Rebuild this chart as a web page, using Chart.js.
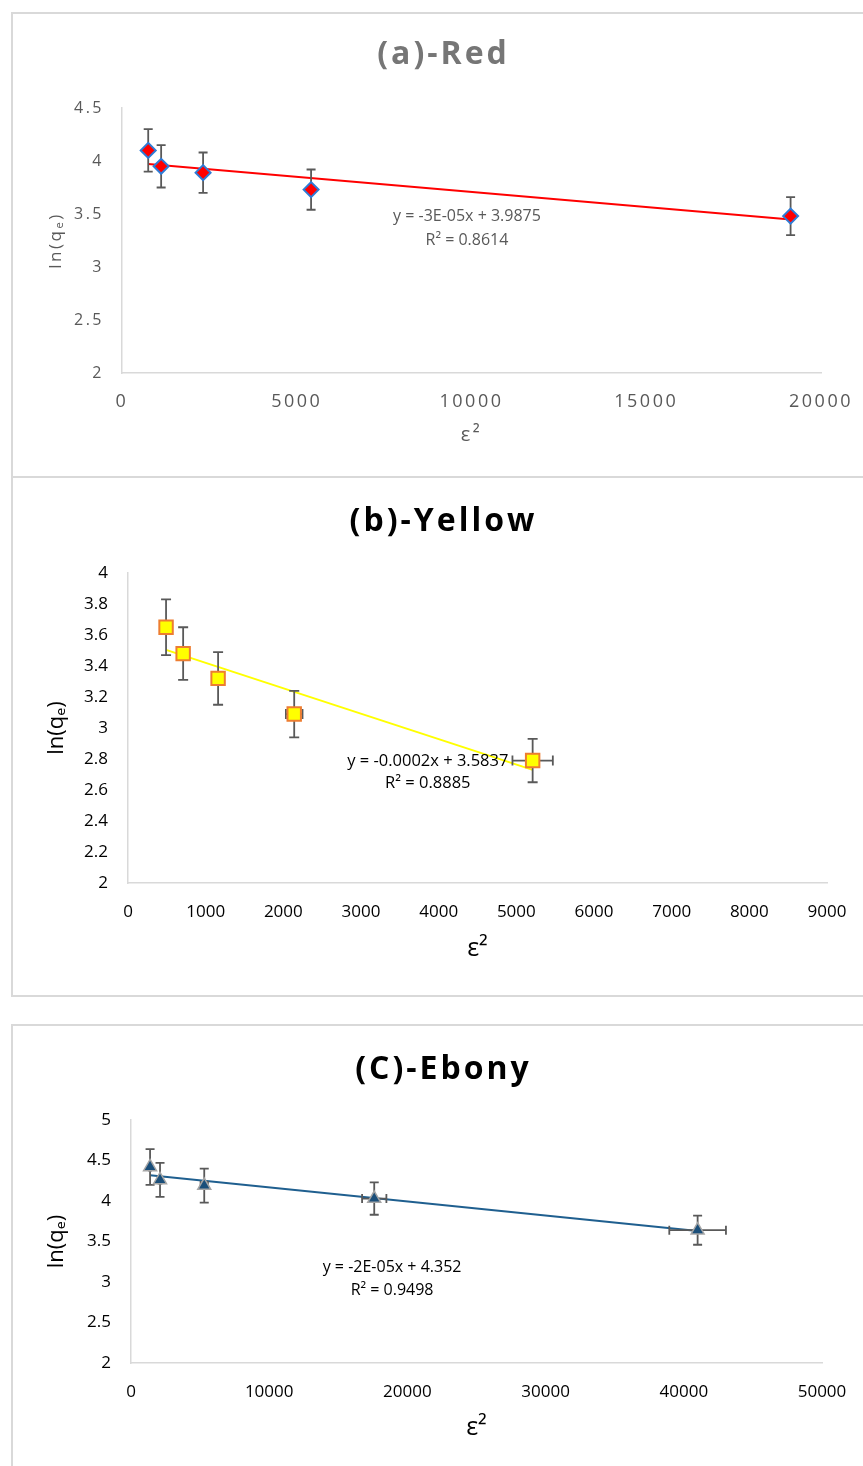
<!DOCTYPE html>
<html>
<head>
<meta charset="utf-8">
<title>Dubinin–Radushkevich plots</title>
<script src="https://cdn.jsdelivr.net/npm/chart.js@4.4.1/dist/chart.umd.min.js"></script>
<style>
  html, body { margin: 0; padding: 0; background: #ffffff; }
  body { width: 863px; height: 1466px; position: relative; overflow: hidden; }
  .frame { position: absolute; left: 11px; width: 900px; border: 2px solid #d9d9d9; box-sizing: border-box; }
  .holder { position: absolute; left: 12px; }
  canvas { display: block; }
</style>
</head>
<body>
<div class="frame" style="top:12px;height:466px"></div>
<div class="frame" style="top:476px;height:521px"></div>
<div class="frame" style="top:1024px;height:500px"></div>

<div class="holder" style="top:14px"><canvas id="chartRed" width="860" height="462"></canvas></div>
<div class="holder" style="top:478px"><canvas id="chartYellow" width="860" height="516"></canvas></div>
<div class="holder" style="top:1026px"><canvas id="chartEbony" width="860" height="440"></canvas></div>

<script>
// ---- (a) Red ----
const redX    = [750, 1120, 2320, 5410, 19130];
const redY    = [4.10, 3.95, 3.89, 3.73, 3.48];
const redYErr = [0.20, 0.20, 0.19, 0.19, 0.18];
const redXTicks = [0, 5000, 10000, 15000, 20000];
const redYTicks = [2, 2.5, 3, 3.5, 4, 4.5];
const redEquation = ['y = -3E-05x + 3.9875', 'R² = 0.8614'];

// ---- (b) Yellow ----
const yellowX    = [490, 710, 1160, 2140, 5210];
const yellowY    = [3.65, 3.48, 3.32, 3.09, 2.79];
const yellowYErr = [0.18, 0.17, 0.17, 0.15, 0.14];
const yellowXErr = [25, 35, 58, 107, 260];
const yellowXTicks = [0, 1000, 2000, 3000, 4000, 5000, 6000, 7000, 8000, 9000];
const yellowYTicks = [2, 2.2, 2.4, 2.6, 2.8, 3, 3.2, 3.4, 3.6, 3.8, 4];
const yellowEquation = ['y = -0.0002x + 3.5837', 'R² = 0.8885'];

// ---- (C) Ebony ----
const ebonyX    = [1380, 2100, 5300, 17600, 41000];
const ebonyY    = [4.42, 4.26, 4.19, 4.03, 3.64];
const ebonyYErr = [0.22, 0.21, 0.21, 0.20, 0.18];
const ebonyXErr = [70, 105, 265, 880, 2050];
const ebonyXTicks = [0, 10000, 20000, 30000, 40000, 50000];
const ebonyYTicks = [2, 2.5, 3, 3.5, 4, 4.5, 5];
const ebonyEquation = ['y = -2E-05x + 4.352', 'R² = 0.9498'];

const FONT = '"Open Sans", "Noto Sans", "DejaVu Sans", sans-serif';
const Y_TITLE = 'ln(qₑ)';
const X_TITLE = 'ε²';

// Ordinary least-squares line through the measured points
function leastSquares(xs, ys) {
  const n = xs.length;
  const mx = xs.reduce((a, b) => a + b, 0) / n;
  const my = ys.reduce((a, b) => a + b, 0) / n;
  let sxy = 0, sxx = 0;
  for (let i = 0; i < n; i++) {
    sxy += (xs[i] - mx) * (ys[i] - my);
    sxx += (xs[i] - mx) * (xs[i] - mx);
  }
  const slope = sxy / sxx;
  return { slope, intercept: my - slope * mx };
}
function trendPoints(xs, ys) {
  const f = leastSquares(xs, ys);
  const lo = Math.min(...xs), hi = Math.max(...xs);
  return [{ x: lo, y: f.intercept + f.slope * lo }, { x: hi, y: f.intercept + f.slope * hi }];
}

// Spacing applied to every text drawn on a chart (letterSpacing is part of the canvas state)
const textSpacing = {
  id: 'textSpacing',
  beforeDraw(chart, args, opts) { chart.ctx.letterSpacing = (opts.px || 0) + 'px'; },
  afterDraw(chart) { chart.ctx.letterSpacing = '0px'; }
};

// Chart heading, centred on the canvas
const panelTitle = {
  id: 'panelTitle',
  afterDraw(chart, args, opts) {
    const ctx = chart.ctx;
    ctx.save();
    ctx.letterSpacing = opts.spacing + 'px';
    ctx.font = `bold ${opts.size}px ${FONT}`;
    ctx.fillStyle = opts.color;
    ctx.textAlign = 'center';
    ctx.textBaseline = 'middle';
    ctx.fillText(opts.text, chart.width / 2 + opts.spacing / 2, opts.y);
    ctx.restore();
  }
};

// Vertical / horizontal error bars with end caps, drawn just before the markers
const errorBars = {
  id: 'errorBars',
  beforeDatasetDraw(chart, args, opts) {
    if (args.index !== 0) return;
    const { ctx, scales: { x, y } } = chart;
    const pts = chart.data.datasets[0].data;
    const xe = opts.xErr || [], ye = opts.yErr || [];
    const cap = opts.cap;
    ctx.save();
    ctx.strokeStyle = opts.color;
    ctx.lineWidth = opts.width;
    ctx.lineCap = 'butt';
    ctx.beginPath();
    pts.forEach((p, i) => {
      const px = x.getPixelForValue(p.x), py = y.getPixelForValue(p.y);
      if (ye[i]) {
        const t = y.getPixelForValue(p.y + ye[i]), b = y.getPixelForValue(p.y - ye[i]);
        ctx.moveTo(px, t); ctx.lineTo(px, b);
        ctx.moveTo(px - cap, t); ctx.lineTo(px + cap, t);
        ctx.moveTo(px - cap, b); ctx.lineTo(px + cap, b);
      }
      if (xe[i]) {
        const l = x.getPixelForValue(p.x - xe[i]), r = x.getPixelForValue(p.x + xe[i]);
        ctx.moveTo(l, py); ctx.lineTo(r, py);
        ctx.moveTo(l, py - cap); ctx.lineTo(l, py + cap);
        ctx.moveTo(r, py - cap); ctx.lineTo(r, py + cap);
      }
    });
    ctx.stroke();
    ctx.restore();
  }
};

// Trendline equation and R², anchored in data units
const trendLabel = {
  id: 'trendLabel',
  afterDraw(chart, args, opts) {
    const { ctx, scales: { x, y } } = chart;
    const cx = x.getPixelForValue(opts.x), cy = y.getPixelForValue(opts.y);
    ctx.save();
    ctx.letterSpacing = '0px';
    ctx.font = `${opts.size}px ${FONT}`;
    ctx.fillStyle = opts.color;
    ctx.textAlign = 'center';
    ctx.textBaseline = 'middle';
    opts.lines.forEach((line, i) => ctx.fillText(line, cx, cy + i * opts.gap));
    ctx.restore();
  }
};

function buildChart(id, p) {
  const points = p.xs.map((x, i) => ({ x, y: p.ys[i] }));
  const lastY = p.yTicks[p.yTicks.length - 1];
  const lastX = p.xTicks[p.xTicks.length - 1];
  return new Chart(document.getElementById(id), {
    type: 'scatter',
    data: {
      datasets: [
        {
          data: points,
          showLine: false,
          pointStyle: p.marker.style,
          pointRadius: p.marker.radius,
          pointHoverRadius: p.marker.radius,
          pointBackgroundColor: p.marker.fill,
          pointBorderColor: p.marker.stroke,
          pointBorderWidth: p.marker.width,
          backgroundColor: p.marker.fill,
          borderColor: p.marker.stroke
        },
        {
          data: trendPoints(p.xs, p.ys),
          showLine: true,
          borderColor: p.trend.color,
          borderWidth: p.trend.width,
          pointRadius: 0,
          pointHoverRadius: 0,
          fill: false
        }
      ]
    },
    options: {
      responsive: false,
      animation: false,
      devicePixelRatio: 1,
      events: [],
      layout: { padding: { top: p.area.top, right: p.area.right, left: 0, bottom: 0 } },
      plugins: {
        legend: { display: false },
        tooltip: { enabled: false },
        textSpacing: { px: p.spacing },
        panelTitle: { text: p.title, size: p.titleSize, color: p.titleColor, spacing: p.titleSpacing, y: p.titleY },
        errorBars: { xErr: p.xErr, yErr: p.yErr, color: '#595959', width: 1.8, cap: p.cap },
        trendLabel: { lines: p.equation, x: p.eqAt[0], y: p.eqAt[1], size: p.eqSize, gap: p.eqGap, color: p.textColor }
      },
      scales: {
        x: {
          type: 'linear',
          position: 'bottom',
          min: p.xTicks[0],
          max: lastX,
          afterBuildTicks: s => { s.ticks = p.xTicks.map(v => ({ value: v })); },
          afterFit: s => { s.height = p.area.xBox; },
          grid: { display: false, drawTicks: false },
          border: { display: true, color: '#d9d9d9', width: 1.5 },
          ticks: {
            autoSkip: false, maxRotation: 0, padding: p.xTickPad,
            color: p.textColor, font: { family: FONT, size: p.xTickSize },
            callback: v => String(v)
          },
          title: {
            display: true, text: X_TITLE, color: p.textColor,
            font: { family: FONT, size: p.xTitleSize }, padding: { top: 0, bottom: p.xTitlePad }
          }
        },
        y: {
          type: 'linear',
          position: 'left',
          min: p.yTicks[0],
          max: lastY,
          afterBuildTicks: s => { s.ticks = p.yTicks.map(v => ({ value: v })); },
          afterFit: s => { s.width = p.area.left; },
          grid: { display: false, drawTicks: false },
          border: { display: true, color: '#d9d9d9', width: 1.5 },
          ticks: {
            autoSkip: false, padding: p.yTickPad,
            color: p.textColor, font: { family: FONT, size: p.yTickSize },
            callback: v => String(v)
          },
          title: {
            display: true, text: Y_TITLE, color: p.textColor,
            font: { family: FONT, size: p.yTitleSize }, padding: { top: p.yTitlePad, bottom: 0 }
          }
        }
      }
    },
    plugins: [textSpacing, panelTitle, errorBars, trendLabel]
  });
}

buildChart('chartRed', {
  xs: redX, ys: redY, yErr: redYErr, xErr: null,
  xTicks: redXTicks, yTicks: redYTicks,
  title: '(a)-Red', titleSize: 32, titleColor: '#767676', titleSpacing: 3, titleY: 41,
  spacing: 2.5, textColor: '#595959',
  area: { top: 94, right: 51, left: 110, xBox: 103 },
  xTickSize: 18, xTickPad: 18, yTickSize: 16, yTickPad: 18,
  xTitleSize: 20, xTitlePad: 29, yTitleSize: 17, yTitlePad: 34,
  marker: { style: 'rectRot', radius: 7.5, fill: '#ff0000', stroke: '#2e7bd6', width: 2 },
  trend: { color: '#ff0000', width: 2 },
  cap: 4.5,
  equation: redEquation, eqAt: [9870, 3.48], eqSize: 16, eqGap: 24
});

buildChart('chartYellow', {
  xs: yellowX, ys: yellowY, yErr: yellowYErr, xErr: yellowXErr,
  xTicks: yellowXTicks, yTicks: yellowYTicks,
  title: '(b)-Yellow', titleSize: 32, titleColor: '#000000', titleSpacing: 3, titleY: 44,
  spacing: 0, textColor: '#000000',
  area: { top: 95, right: 45, left: 116, xBox: 111 },
  xTickSize: 17, xTickPad: 19, yTickSize: 17, yTickPad: 20,
  xTitleSize: 25, xTitlePad: 30, yTitleSize: 22, yTitlePad: 32,
  marker: { style: 'rect', radius: 9.5, fill: '#ffff00', stroke: '#ed7d31', width: 2 },
  trend: { color: '#ffff00', width: 2 },
  cap: 5,
  equation: yellowEquation, eqAt: [3860, 2.787], eqSize: 16.5, eqGap: 22
});

buildChart('chartEbony', {
  xs: ebonyX, ys: ebonyY, yErr: ebonyYErr, xErr: ebonyXErr,
  xTicks: ebonyXTicks, yTicks: ebonyYTicks,
  title: '(C)-Ebony', titleSize: 32, titleColor: '#000000', titleSpacing: 3, titleY: 44,
  spacing: 0, textColor: '#000000',
  area: { top: 94, right: 50, left: 119, xBox: 103 },
  xTickSize: 17, xTickPad: 19, yTickSize: 17, yTickPad: 20,
  xTitleSize: 25, xTitlePad: 23, yTitleSize: 22, yTitlePad: 32,
  marker: { style: 'triangle', radius: 7.5, fill: '#1b4f7a', stroke: '#a6a6a6', width: 1.5 },
  trend: { color: '#1f5f8f', width: 2 },
  cap: 4.5,
  equation: ebonyEquation, eqAt: [18890, 3.185], eqSize: 16, eqGap: 23
});
</script>
</body>
</html>
